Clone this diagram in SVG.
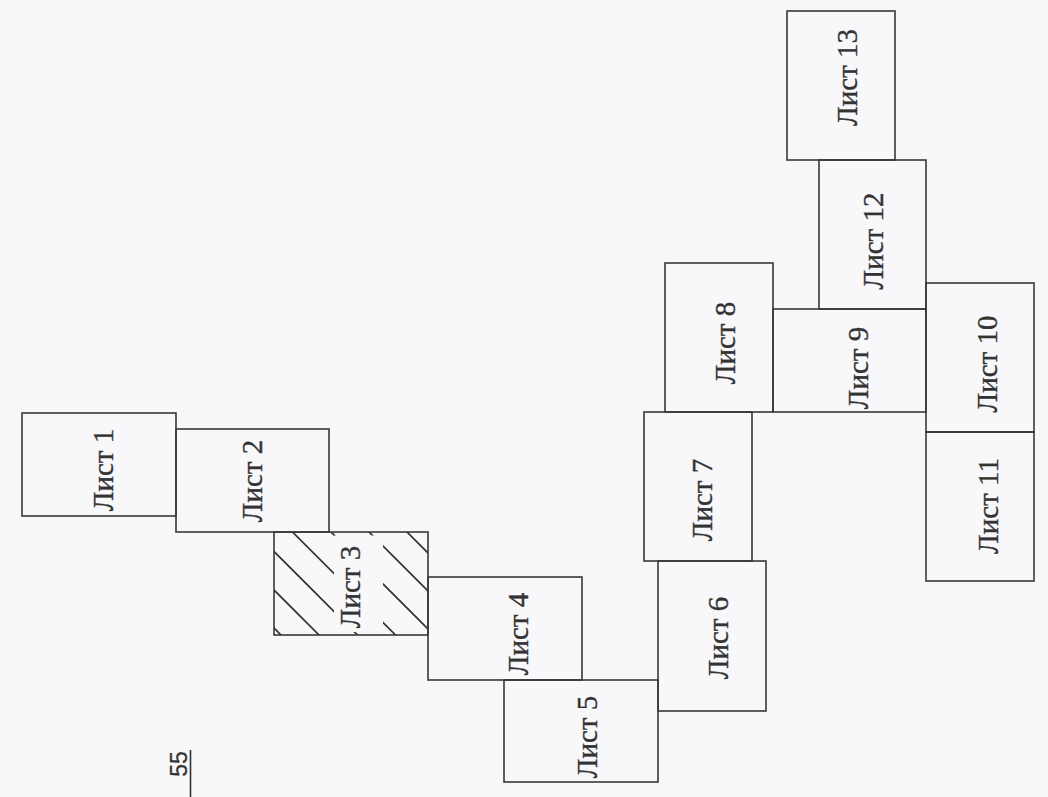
<svg xmlns="http://www.w3.org/2000/svg" width="1048" height="797" viewBox="0 0 1048 797">
  <style>
    .sheet { fill: none; stroke: #383838; stroke-width: 1.6; }
    .lbl { font-family: "Liberation Serif", "Times New Roman", serif; font-size: 29px; fill: #333; stroke: #333; stroke-width: 0.35; text-anchor: middle; }
    .hatch { stroke: #333; stroke-width: 1.7; fill: none; }
    .pg { font-family: "Liberation Sans", Arial, sans-serif; font-size: 23px; fill: #333; stroke: #333; stroke-width: 0.3; text-anchor: middle; }
  </style>
  <defs>
    <clipPath id="clip3">
      <rect x="274" y="532" width="154" height="103"/>
    </clipPath>
    <mask id="mask3" maskUnits="userSpaceOnUse" x="0" y="0" width="1048" height="797">
      <rect x="0" y="0" width="1048" height="797" fill="#fff"/>
      <rect x="334" y="535.5" width="49" height="96.5" fill="#000"/>
    </mask>
  </defs>
  <rect x="0" y="0" width="1048" height="797" fill="#f8f8fa"/>

  <g id="sheet1">
    <rect class="sheet" x="22" y="413" width="154" height="103"/>
    <text class="lbl" transform="translate(113,470) rotate(-90)">Лист 1</text>
  </g>
  <g id="sheet2">
    <rect class="sheet" x="176" y="429" width="153" height="103"/>
    <text class="lbl" transform="translate(262,481) rotate(-90)">Лист 2</text>
  </g>
  <g id="sheet3">
    <g clip-path="url(#clip3)">
      <g mask="url(#mask3)">
        <line class="hatch" x1="260" y1="614" x2="300" y2="654"/>
        <line class="hatch" x1="260" y1="576" x2="340" y2="656"/>
        <line class="hatch" x1="260" y1="537.5" x2="380" y2="657.5"/>
        <line class="hatch" x1="260" y1="499.5" x2="420" y2="659.5"/>
        <line class="hatch" x1="300" y1="501" x2="460" y2="661"/>
        <line class="hatch" x1="340" y1="503" x2="470" y2="633"/>
        <line class="hatch" x1="380" y1="505" x2="470" y2="595"/>
      </g>
    </g>
    <rect class="sheet" x="274" y="532" width="154" height="103"/>
    <text class="lbl" transform="translate(360,587) rotate(-90)">Лист 3</text>
  </g>
  <g id="sheet4">
    <rect class="sheet" x="428" y="577" width="154" height="103"/>
    <text class="lbl" transform="translate(528,634) rotate(-90)">Лист 4</text>
  </g>
  <g id="sheet5">
    <rect class="sheet" x="504" y="680" width="154" height="102"/>
    <text class="lbl" transform="translate(597,737) rotate(-90)">Лист 5</text>
  </g>
  <g id="sheet6">
    <rect class="sheet" x="658" y="561" width="108" height="150"/>
    <text class="lbl" transform="translate(728,638) rotate(-90)">Лист 6</text>
  </g>
  <g id="sheet7">
    <rect class="sheet" x="644" y="412" width="108" height="149"/>
    <text class="lbl" transform="translate(712,500) rotate(-90)">Лист 7</text>
  </g>
  <g id="sheet8">
    <rect class="sheet" x="665" y="263" width="108" height="149"/>
    <text class="lbl" transform="translate(735,343) rotate(-90)">Лист 8</text>
  </g>
  <g id="sheet9">
    <rect class="sheet" x="773" y="309" width="153" height="103"/>
    <text class="lbl" transform="translate(868,368) rotate(-90)">Лист 9</text>
  </g>
  <g id="sheet10">
    <rect class="sheet" x="926" y="283" width="108" height="149"/>
    <text class="lbl" transform="translate(997,364) rotate(-90)">Лист 10</text>
  </g>
  <g id="sheet11">
    <rect class="sheet" x="926" y="432" width="108" height="149"/>
    <text class="lbl" transform="translate(998,506) rotate(-90)">Лист 11</text>
  </g>
  <g id="sheet12">
    <rect class="sheet" x="819" y="160" width="107" height="149"/>
    <text class="lbl" transform="translate(883,241) rotate(-90)">Лист 12</text>
  </g>
  <g id="sheet13">
    <rect class="sheet" x="787" y="11" width="108" height="149"/>
    <text class="lbl" transform="translate(857,77.5) rotate(-90)">Лист 13</text>
  </g>

  <g id="page-number">
    <text class="pg" transform="translate(187,764) rotate(-90)">55</text>
    <line x1="190.5" y1="750" x2="190.5" y2="797" stroke="#333" stroke-width="1.6"/>
  </g>
</svg>
